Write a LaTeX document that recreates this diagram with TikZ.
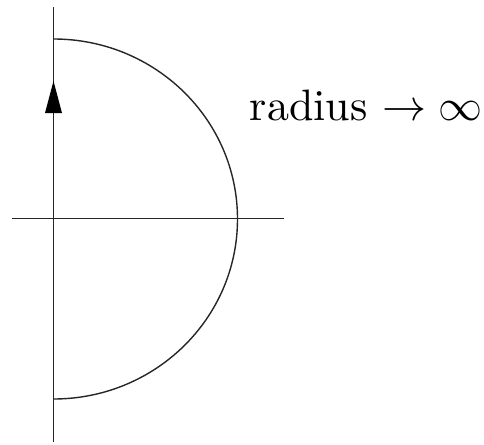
\documentclass[tikz,border=0pt]{standalone}
\begin{document}
\begin{tikzpicture}[x=1pt,y=-1pt,
  axis/.style={line width=1.6pt,draw=black!85},
  contour/.style={line width=1.4pt,draw=black!85},
  tiparrow/.style={fill=black,draw=none},
  lbl/.style={inner sep=0pt,anchor=base west,scale=4.4}]
\useasboundingbox (0,0) rectangle (484,444);
\coordinate (O) at (53.5,218.5);
\coordinate (vtop) at (53.5,7);
\coordinate (vbot) at (53.5,442);
\coordinate (hl) at (12,218.5);
\coordinate (hr) at (284,218.5);
\coordinate (ctop) at (53.5,39);
\coordinate (cbot) at (53.5,399);
\draw[axis] (vbot) -- (vtop);
\draw[axis] (hl) -- (hr);
\draw[contour] (ctop) arc[start angle=-90,end angle=90,x radius=184,y radius=180];
\coordinate (tip) at (53.5,81);
\fill[tiparrow] (tip) -- ([xshift=-8.5]tip |- 0,113) -- ([xshift=8.5]tip |- 0,113) -- cycle;
\node[lbl] (r) at (249,120) {radius $\rightarrow\infty$};
\end{tikzpicture}
\end{document}
